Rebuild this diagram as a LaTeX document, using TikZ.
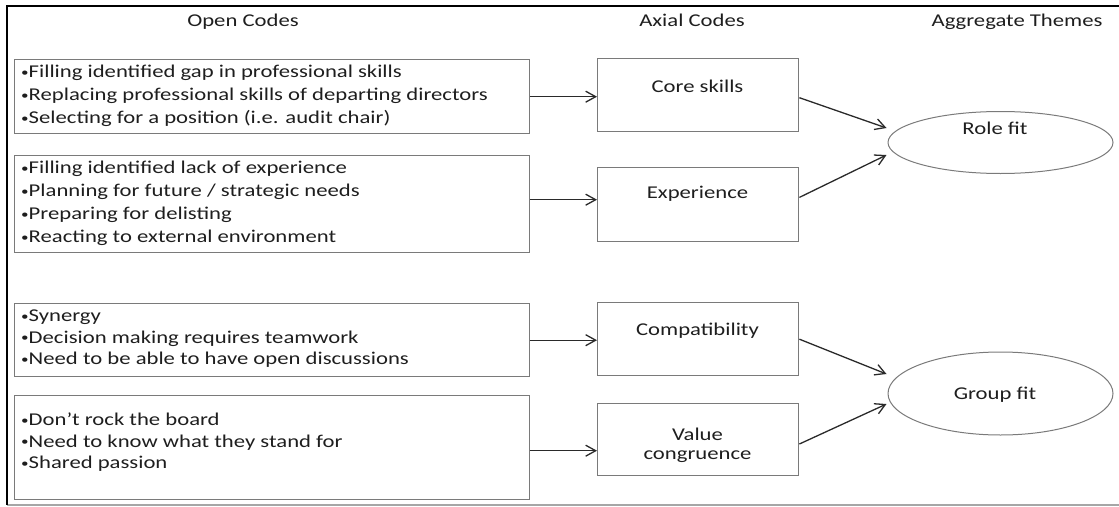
\documentclass[tikz,border=0pt]{standalone}
\usepackage{fontspec}
\setmainfont{Carlito}[FakeStretch=1.26]
\usetikzlibrary{arrows.meta,shapes.geometric}
\definecolor{boxgray}{HTML}{7A7A7A}
\definecolor{txt}{HTML}{1E1E1E}
\definecolor{arrc}{HTML}{2A2A2A}
\newcommand\mybul{\raisebox{1.6pt}{\fontsize{12}{12}\selectfont •}}
\tikzset{
  lbox/.style={draw=boxgray, line width=1.4pt, rectangle, inner sep=0pt, minimum width=515.5pt, anchor=north west},
  mbox/.style={draw=boxgray, line width=1.4pt, rectangle, inner sep=0pt, minimum width=201pt, anchor=north west},
  ell/.style={draw=boxgray, line width=1pt, ellipse, inner sep=0pt, minimum width=225pt},
  hdr/.style={font=\fontsize{18}{22}\selectfont, text=txt, inner sep=0pt, anchor=base},
  ltxt/.style={text=txt, inner sep=0pt, anchor=north west, align=left},
  mtxt/.style={font=\fontsize{18}{18.5}\selectfont, text=txt, inner sep=0pt, anchor=base},
  arr/.style={draw=arrc, line width=1.3pt, -{Straight Barb[length=10pt,width=11pt]}},
}
\begin{document}
\begin{tikzpicture}[x=1pt,y=-1pt]
\useasboundingbox (0,0) rectangle (1119,506);
% frame
\coordinate (ftl) at (7,6);
\coordinate (ftr) at (1119,6);
\coordinate (fbl) at (7,505);
\coordinate (fbr) at (1119,505);
\draw[gray!70, line width=1.5pt] (fbl) -- (fbr);
\draw[black, line width=2.2pt] (ftr) -- (ftl) -- (fbl);
% headers
\node[hdr] (h1) at (243,26) {Open Codes};
\node[hdr] (h2) at (692,26) {Axial Codes};
\node[hdr] (h3) at (1017,26) {Aggregate Themes};
% left boxes
\node[lbox, minimum height=74pt] (b1) at (13.5,59) {};
\node[lbox, minimum height=97pt] (b2) at (13.5,155) {};
\node[lbox, minimum height=73pt] (b3) at (13.5,303) {};
\node[lbox, minimum height=104pt] (b4) at (13.5,395) {};
\node[ltxt, font=\fontsize{18}{23}\selectfont] (t1) at (21,65) {\mybul Filling identified gap in professional skills\\\mybul Replacing professional skills of departing directors\\\mybul Selecting for a position (i.e. audit chair)};
\node[ltxt, font=\fontsize{18}{23}\selectfont] (t2) at (21,161) {\mybul Filling identified lack of experience\\\mybul Planning for future / strategic needs\\\mybul Preparing for delisting\\\mybul Reacting to external environment};
\node[ltxt, font=\fontsize{18}{21.5}\selectfont] (t3) at (21,310) {\mybul Synergy\\\mybul Decision making requires teamwork\\\mybul Need to be able to have open discussions};
\node[ltxt, font=\fontsize{18}{21.5}\selectfont] (t4) at (21,413) {\mybul Don’t rock the board\\\mybul Need to know what they stand for\\\mybul Shared passion};
% middle boxes
\node[mbox, minimum height=73pt] (c1) at (597,58) {};
\node[mbox, minimum height=74pt] (c2) at (597,167) {};
\node[mbox, minimum height=73pt] (c3) at (597,302) {};
\node[mbox, minimum height=72pt] (c4) at (597,403) {};
\node[mtxt] (m1) at (697.5,92) {Core skills};
\node[mtxt] (m2) at (697.5,198) {Experience};
\node[mtxt] (m3) at (697.5,335) {Compatibility};
\node[mtxt, anchor=north, align=center] (m4) at (697.5,428) {Value\\congruence};
% ellipses
\node[ell, minimum height=62pt] (rf) at (1000.5,142.5) {};
\node[ell, minimum height=83pt] (gf) at (1000.5,393.5) {};
\node[hdr] (rft) at (995,134.5) {Role fit};
\node[hdr] (gft) at (995,399) {Group fit};
% arrows left -> middle
\draw[arr] (b1.east) -- (b1.east -| c1.west);
\draw[arr] ([yshift=4.5pt]b2.east) -- ([yshift=4.5pt]b2.east -| c2.west);
\draw[arr] (b3.east) -- (b3.east -| c3.west);
\draw[arr] ([yshift=-3pt]b4.east) -- ([yshift=-3pt]b4.east -| c4.west);
% arrows middle -> themes
\draw[arr] ([yshift=-2.5pt]c1.east) -- ([xshift=-1pt,yshift=14.5pt]rf.west);
\draw[arr] ([yshift=7.3pt]c2.east) -- ([xshift=-1pt,yshift=-12.5pt]rf.west);
\draw[arr] (c3.east) -- ([xshift=-1pt,yshift=19.5pt]gf.west);
\draw[arr] ([yshift=-4.3pt]c4.east) -- ([xshift=-1pt,yshift=-10.5pt]gf.west);
\end{tikzpicture}
\end{document}
